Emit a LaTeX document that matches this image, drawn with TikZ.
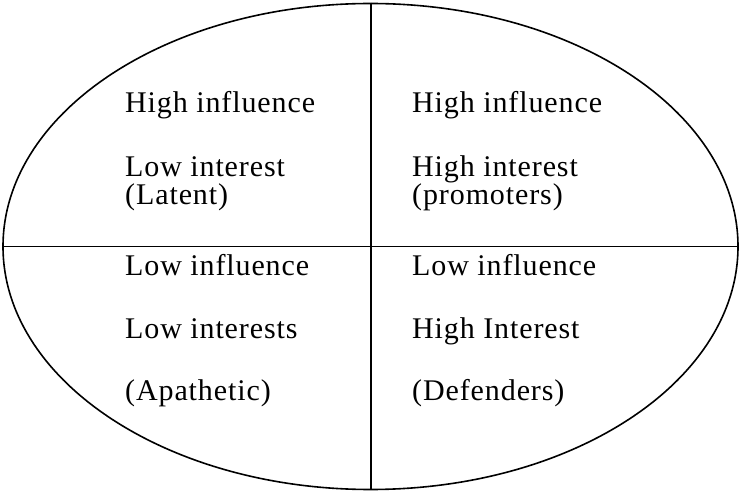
\documentclass[tikz,border=0pt]{standalone}
\usepackage{fontspec}
\setmainfont[Ligatures=CommonOff]{Liberation Serif}
\newfontfamily\quadfont[Ligatures=CommonOff, LetterSpace=3]{Liberation Serif}
\usetikzlibrary{shapes.geometric}

\tikzset{
  quadtext/.style={anchor=base west, inner sep=0pt, font=\quadfont\fontsize{30}{34}\selectfont},
  oval/.style={draw, ellipse, line width=1.6pt, inner sep=0pt, minimum width=735pt, minimum height=486pt}
}

\begin{document}
\begin{tikzpicture}[x=1pt, y=-1pt]
  \useasboundingbox (0,0) rectangle (740,492);
  \node[oval] (grid) at (370.5,246.5) {};
  \draw[line width=1.4pt] (grid.north -| 371,0) coordinate (top) -- (grid.south -| 371,0) coordinate (bot);
  \draw[line width=1.4pt] (grid.west) -- (grid.east);
  % upper left
  \node[quadtext] (tlA) at (125,113) {High influence};
  \node[quadtext] (tlB) at (125,177) {Low interest};
  \node[quadtext] (tlC) at (125,205) {(Latent)};
  % upper right
  \node[quadtext] (trA) at (412,113) {High influence};
  \node[quadtext] (trB) at (412,177) {High interest};
  \node[quadtext] (trC) at (412,205) {(promoters)};
  % lower left
  \node[quadtext] (blA) at (125,276) {Low influence};
  \node[quadtext] (blB) at (125,338) {Low interests};
  \node[quadtext] (blC) at (125,400) {(Apathetic)};
  % lower right
  \node[quadtext] (brA) at (412,276) {Low influence};
  \node[quadtext] (brB) at (412,338) {High Interest};
  \node[quadtext] (brC) at (412,400) {(Defenders)};
\end{tikzpicture}
\end{document}
